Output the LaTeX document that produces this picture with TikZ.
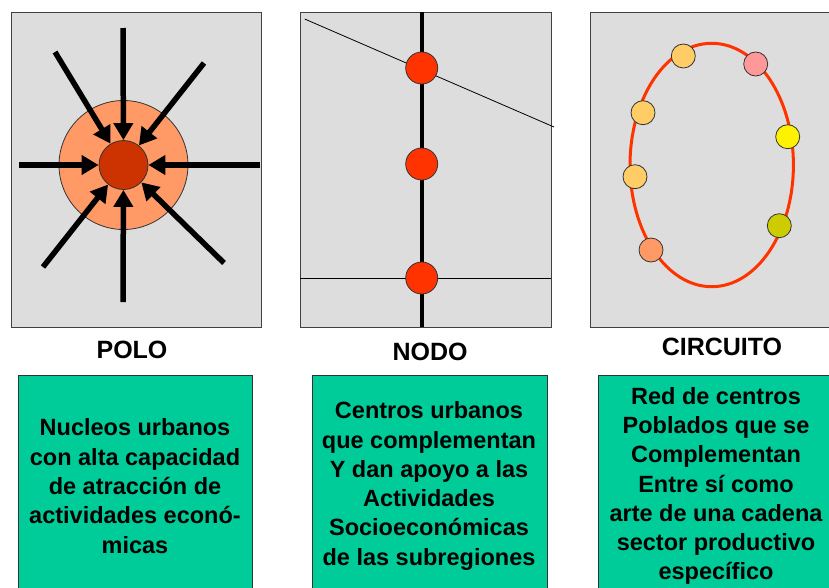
\documentclass[tikz,border=0pt]{standalone}
\usepackage{fontspec}
\setmainfont{Liberation Sans}
\usetikzlibrary{arrows.meta}
\definecolor{fondo}{HTML}{DDDDDD}
\definecolor{halo}{HTML}{FF9966}
\definecolor{nucleo}{HTML}{CC3300}
\definecolor{rojo}{HTML}{FF3300}
\definecolor{verde}{HTML}{00CC99}
\definecolor{ocre}{HTML}{FFCC66}
\definecolor{rosa}{HTML}{FF9999}
\definecolor{oliva}{HTML}{CCCC00}

\begin{document}
\begin{tikzpicture}[x=1pt,y=-1pt,
  marco/.style={draw=black!75,fill=fondo,line width=0.8pt},
  flecha/.style={line width=5.5pt,-{Triangle[length=17pt,width=19pt]}},
  punto/.style={circle,draw=black!80,line width=0.8pt,inner sep=0pt},
  caja/.style={draw=black!80,fill=verde,line width=0.8pt},
  titulo/.style={font=\bfseries\fontsize{25}{30}\selectfont},
  texto/.style={font=\bfseries\fontsize{23.5}{29.3}\selectfont,align=center}]
  \useasboundingbox (0,0) rectangle (829,587);
  \clip (0,0) rectangle (829,587);

  % polo
  \draw[marco] (11,12) rectangle (261,327);
  \node[punto,fill=halo,minimum size=129pt] (halo) at (123.5,165) {};
  \node[punto,fill=nucleo,minimum size=49pt] (centro) at (123.5,165) {};
  \foreach \n/\p in {a/{123,28},b/{55,52},c/{204,63},d/{19,165},
                     e/{260,165},f/{43,267},g/{123,302},h/{224,263}}
    \coordinate (\n) at (\p);
  \foreach \n in {a,b,c,d,e,f,g,h}
    \draw[flecha] (\n) -- (centro);
  \node[titulo] (polo) at (132,350) {POLO};

  % nodo
  \draw[marco] (300,12) rectangle (551,327);
  \coordinate (arriba) at (421.7,12);
  \coordinate (abajo) at (421.7,327);
  \coordinate (izq) at (300,278);
  \coordinate (der) at (551,278);
  \coordinate (diag1) at (304.7,19);
  \coordinate (diag2) at (554,127);
  \draw[line width=0.8pt] (diag1) -- (diag2);
  \draw[line width=0.8pt] (izq) -- (der);
  \draw[line width=4pt] (arriba) -- (abajo);
  \foreach \i/\y in {1/68,2/164,3/278}
    \node[punto,fill=rojo,minimum size=32pt] (n\i) at (421.7,\y) {};
  \node[titulo] (nodo) at (430,352) {NODO};

  % circuito
  \draw[marco] (590,12) rectangle (845,327);
  \draw[rojo,line width=3pt] (711.7,165) ellipse [x radius=81.7,y radius=121.7];
  \foreach \i/\p/\c in {1/{683.3,56}/ocre,2/{755.7,64}/rosa,3/{643,112.7}/ocre,
                        4/{787.7,136.7}/yellow,5/{635,176.7}/ocre,
                        6/{779.3,225.7}/oliva,7/{651,250}/halo}
    \node[punto,fill=\c,minimum size=24pt] (c\i) at (\p) {};
  \node[titulo] (circuito) at (722,347) {CIRCUITO};

  % cajas
  \draw[caja] (18,375) rectangle (252,600);
  \draw[caja] (312,375) rectangle (547,600);
  \draw[caja] (598,375) rectangle (845,600);
  \node[texto] (t1) at (135,486) {Nucleos urbanos\\con alta capacidad\\de atracción de\\actividades econó-\\micas};
  \node[texto] (t2) at (429,486) {Centros urbanos\\que complementan\\Y dan apoyo a las\\Actividades\\Socioeconómicas\\de las subregiones};
  \node[texto] (t3) at (716,486) {Red de centros\\Poblados que se\\Complementan\\Entre sí como\\arte de una cadena\\sector productivo\\específico};
\end{tikzpicture}
\end{document}
